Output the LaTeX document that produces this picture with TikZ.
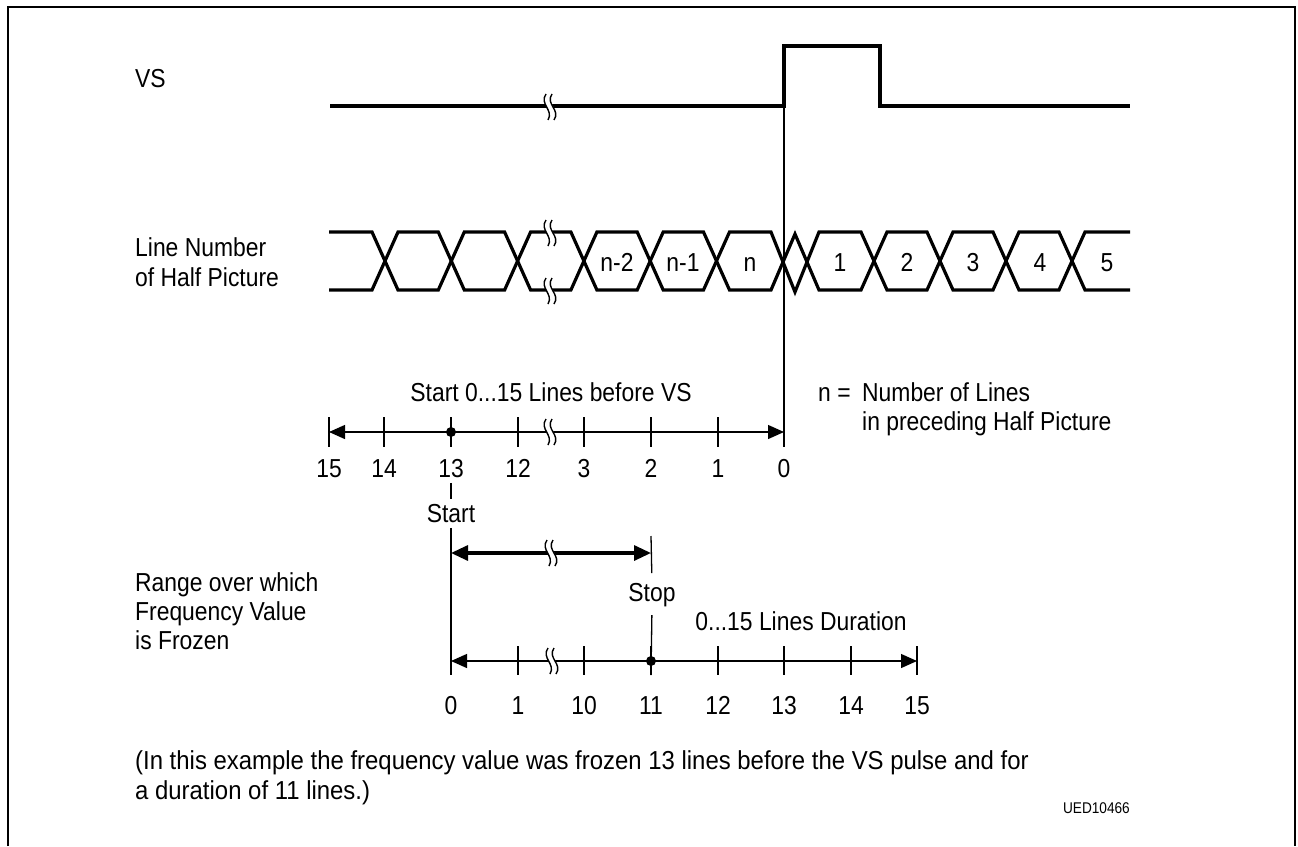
\documentclass[tikz,border=0pt]{standalone}
\usepackage{fontspec}
\setmainfont{Liberation Sans}[FakeStretch=0.88]
\newfontfamily\notefont{Liberation Sans}[FakeStretch=0.92]
\usepackage{tikz}
\usetikzlibrary{arrows.meta}

\tikzset{
  sig/.style={line width=3.2pt, line join=miter},
  thinl/.style={line width=1.3pt},
  axisl/.style={line width=1.3pt, {Triangle[length=16pt,width=14pt]}-{Triangle[length=16pt,width=14pt]}},
  boldarr/.style={line width=3.2pt, {Triangle[length=17pt,width=15pt]}-{Triangle[length=17pt,width=15pt]}},
  txt/.style={inner sep=0pt, font=\fontsize{26}{30}\selectfont},
  brk/.pic={
    \fill[white] (-4,-13) .. controls (-11,-3) and (4,3) .. (-2,13) -- (4,13) .. controls (11,3) and (-4,-3) .. (2,-13) -- cycle;
    \draw[line width=1.4pt] (-4,-13) .. controls (-11,-3) and (4,3) .. (-2,13);
    \draw[line width=1.4pt] (2,-13) .. controls (-5,-3) and (11,3) .. (4,13);
  }
}

\begin{document}
\begin{tikzpicture}[x=1pt, y=-1pt]
    \useasboundingbox (0,0) rectangle (1298,846);
    \draw[line width=2.4pt] (8,846) -- (8,7) -- (1295,7) -- (1295,846);

    % VS
    \node[txt, anchor=west] (vs) at (135,79) {VS};
    \draw[sig] (330,106) -- (784,106) -- (784,46) -- (880,46) -- (880,106) -- (1130,106);
    \pic at (550,107) {brk};
    \draw[thinl] (784,106) -- (784,447);

    % line number
    \node[txt, anchor=west, align=left] (lnum) at (135,262) {Line Number\\of Half Picture};
    \draw[sig] (329,232) \foreach \p/\q in {385/451.3, 517.6/583.9, 650.2/716.5}
        { -- (\p-13,232) -- (\p+13,290) -- (\q-13,290) -- (\q+13,232) }
        -- (771,232) -- (795,292) -- (819,232)
        \foreach \p/\q in {874/940, 1006/1072}
        { -- (\p-13,232) -- (\p+13,290) -- (\q-13,290) -- (\q+13,232) } -- (1130,232);
    \draw[sig] (329,290) \foreach \p/\q in {385/451.3, 517.6/583.9, 650.2/716.5}
        { -- (\p-13,290) -- (\p+13,232) -- (\q-13,232) -- (\q+13,290) }
        -- (771,290) -- (795,234) -- (819,290)
        \foreach \p/\q in {874/940, 1006/1072}
        { -- (\p-13,290) -- (\p+13,232) -- (\q-13,232) -- (\q+13,290) } -- (1130,290);
    \pic at (550,233) {brk};
    \pic at (550,291) {brk};
    \foreach \x/\t/\nm in {617/n-2/cA, 683/n-1/cB, 750/n/cC, 840/1/c1, 907/2/c2, 973/3/c3, 1040/4/c4, 1107/5/c5}
        \node[txt, anchor=base] (\nm) at (\x,271) {\t};

    % start axis
    \node[txt] (startlbl) at (551,392) {Start 0...15 Lines before VS};
    \node[txt, anchor=base west] (neq) at (818,401) {n =};
    \node[txt, anchor=base west] (nlines) at (862,401) {Number of Lines};
    \node[txt, anchor=base west] (nhalf) at (862,430) {in preceding Half Picture};
    \draw[axisl] (329,432) -- (784,432);
    \foreach \x in {329,384,451,518,584,651,718,784}
        \draw[thinl] (\x,417) -- (\x,447);
    \pic at (550,432) {brk};
    \fill (451,432) circle (5pt);
    \foreach \x/\t in {329/15,384/14,451/13,518/12,584/3,651/2,718/1,784/0}
        \node[txt, anchor=base] (a\t) at (\x,477.5) {\t};

    % frozen range
    \node[txt, anchor=base] (start) at (451,522.5) {Start};
    \node[txt, anchor=base] (stop) at (652,601.5) {Stop};
    \coordinate (s0) at (451,675);
    \coordinate (s11) at (651,675);
    \coordinate (stoptop) at (651,536);
    \draw[thinl, shorten <=5pt, shorten >=5pt] (a13.south) -- (start.north);
    \draw[thinl, shorten <=5pt] (start.south) -- (s0);
    \draw[thinl, shorten >=10pt] (stoptop) -- (stop.north);
    \draw[thinl, shorten <=8pt] (stop.south) -- (s11);
    \draw[boldarr] (451,553) -- (651,553);
    \pic at (551,553) {brk};
    \node[txt, anchor=west, align=left, font=\fontsize{26}{29}\selectfont] (range) at (135,611) {Range over which\\Frequency Value\\is Frozen};

    % duration axis
    \node[txt] (durlbl) at (801,621) {0...15 Lines Duration};
    \draw[axisl] (451,661) -- (917,661);
    \foreach \x in {451,518,584,651,718,784,851,917}
        \draw[thinl] (\x,646) -- (\x,675);
    \pic at (552,661) {brk};
    \fill (651,661) circle (5pt);
    \foreach \x/\t in {451/0,518/1,584/10,651/11,718/12,784/13,851/14,917/15}
        \node[txt, anchor=base] (b\t) at (\x,714.5) {\t};

    % note
    \node[txt, anchor=west, align=left, font=\notefont\fontsize{26}{30}\selectfont] (note) at (135,778) {(In this example the frequency value was frozen 13 lines before the VS pulse and for\\a duration of 11 lines.)};
    \node[txt, anchor=east, font=\fontsize{15.5}{18}\selectfont] (code) at (1130,808) {UED10466};
\end{tikzpicture}
\end{document}
